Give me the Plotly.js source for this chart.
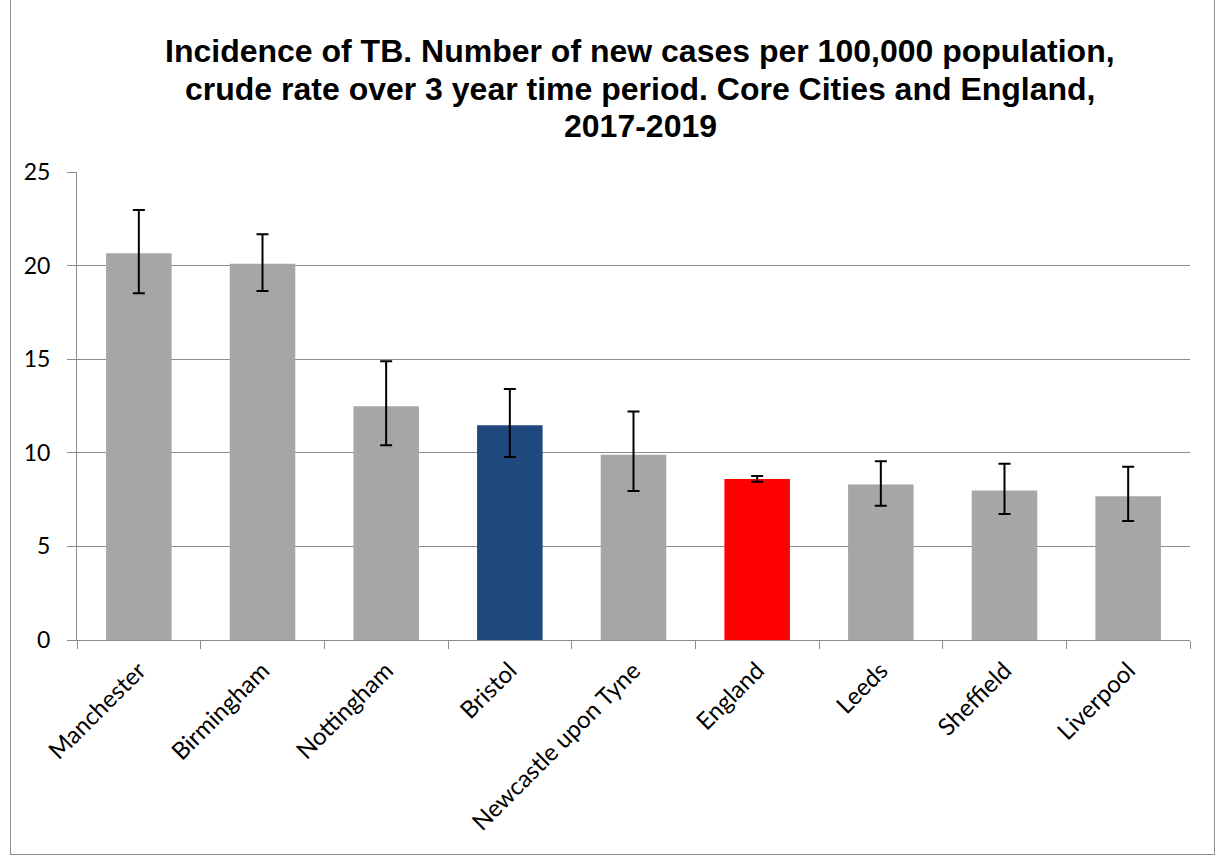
<!DOCTYPE html>
<html><head><meta charset="utf-8">
<script src="https://cdn.plot.ly/plotly-3.0.1.min.js"></script>
<style>
html,body{margin:0;padding:0;background:#fff;}
#wrap{position:absolute;left:10px;top:0;width:1203px;height:854px;border:1px solid #8c8c8c;border-top:none;}
#chart{position:absolute;left:0;top:0;width:1215px;height:856px;}
</style></head>
<body>
<div id="wrap"></div>
<div id="chart"></div>
<script>
const categories = ["Manchester","Birmingham","Nottingham","Bristol","Newcastle upon Tyne","England","Leeds","Sheffield","Liverpool"];
const rates = [20.66, 20.1, 12.48, 11.47, 9.9, 8.6, 8.3, 7.98, 7.68];
const upperCI = [22.97, 21.67, 14.89, 13.41, 12.2, 8.76, 9.55, 9.42, 9.26];
const lowerCI = [18.52, 18.64, 10.4, 9.78, 7.96, 8.46, 7.17, 6.73, 6.36];
const barColors = ["#a6a6a6","#a6a6a6","#a6a6a6","#1f497d","#a6a6a6","#ff0000","#a6a6a6","#a6a6a6","#a6a6a6"];
const titleLines = [
  "Incidence of TB. Number of new cases per 100,000 population,",
  "crude rate over 3 year time period. Core Cities and England,",
  "2017-2019"
];

const trace = {
  type: 'bar',
  x: categories,
  y: rates,
  marker: {color: barColors, line: {width: 0}},
  error_y: {
    type: 'data', symmetric: false,
    array: upperCI.map((u, i) => u - rates[i]),
    arrayminus: lowerCI.map((l, i) => rates[i] - l),
    color: '#000', thickness: 2, width: 6
  },
  hoverinfo: 'skip'
};

// title lines placed with tighter line spacing than Plotly's default
const plotTop = 172, plotH = 468;
const lineCentersPx = [51, 89, 126];
const annotations = titleLines.map((t, i) => ({
  text: '<b>' + t + '</b>',
  xref: 'paper', yref: 'paper',
  x: 0.506, xanchor: 'center',
  y: 1 + (plotTop - lineCentersPx[i]) / plotH, yanchor: 'middle',
  showarrow: false,
  font: {family: 'Liberation Sans, Arial, sans-serif', size: 32, color: '#000'}
}));

const layout = {
  width: 1215, height: 856,
  margin: {l: 77, r: 25, t: 172, b: 216},
  paper_bgcolor: 'rgba(0,0,0,0)', plot_bgcolor: 'rgba(0,0,0,0)',
  bargap: 0.47,
  showlegend: false,
  annotations: annotations,
  xaxis: {
    type: 'category',
    tickangle: -45,
    tickson: 'boundaries',
    ticks: 'outside', ticklen: 8, tickcolor: '#8c8c8c', tickwidth: 1,
    ticklabelstandoff: 6,
    showline: true, linecolor: '#8c8c8c', linewidth: 1,
    tickfont: {family: 'Lato, sans-serif', size: 24, color: '#000'},
    showgrid: false
  },
  yaxis: {
    range: [0, 25], dtick: 5,
    ticks: 'outside', ticklen: 9, tickcolor: '#8c8c8c', tickwidth: 1,
    ticklabelstandoff: 12,
    showline: true, linecolor: '#8c8c8c', linewidth: 1,
    gridcolor: '#8c8c8c', gridwidth: 1,
    tickfont: {family: 'Lato, sans-serif', size: 23, color: '#000'},
    zeroline: false
  }
};

Plotly.newPlot('chart', [trace], layout, {displayModeBar: false, staticPlot: true});
</script>
</body></html>
